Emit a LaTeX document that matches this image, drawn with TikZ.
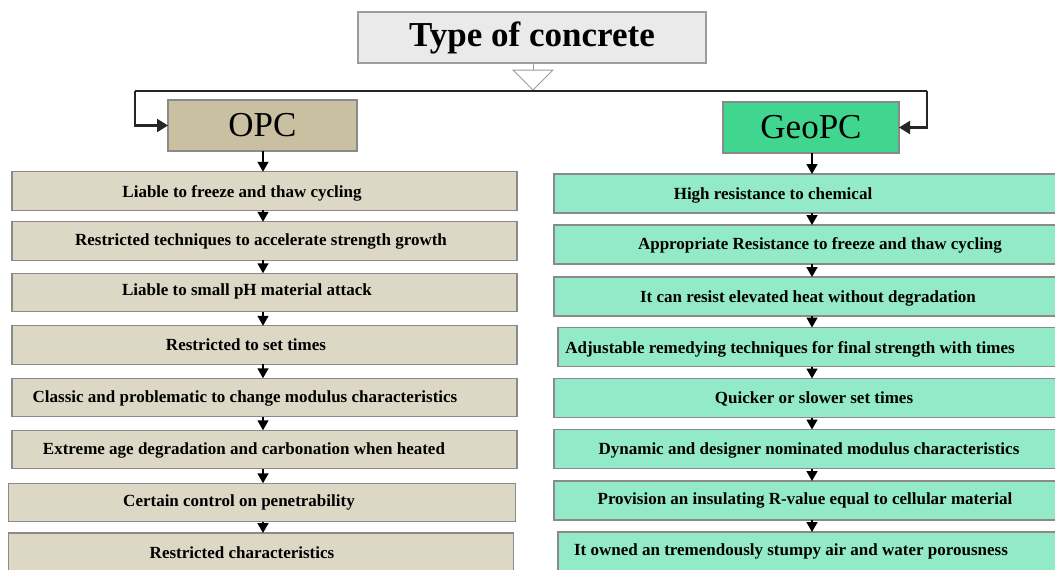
\documentclass[tikz,border=0pt]{standalone}
\usepackage{fontspec}
\setmainfont{Liberation Serif}
\usetikzlibrary{arrows.meta}
\definecolor{titlefill}{HTML}{EAEAEA}
\definecolor{titleborder}{HTML}{9C9C9C}
\definecolor{opcfill}{HTML}{C8C0A0}
\definecolor{opclist}{HTML}{DDD8C5}
\definecolor{geofill}{HTML}{40D690}
\definecolor{geolist}{HTML}{92EAC8}
\definecolor{boxborder}{HTML}{8A8A8A}
\tikzset{
  every node/.style={inner sep=0pt, outer sep=0pt},
  titlebox/.style={draw=titleborder, line width=1.2pt, fill=titlefill, minimum width=348pt, minimum height=51pt, font=\fontsize{35}{38}\selectfont\bfseries},
  headbox/.style={draw=boxborder, line width=1.2pt, minimum height=51pt, font=\fontsize{35}{38}\selectfont},
  leftbox/.style={draw=boxborder, line width=1.2pt, fill=opclist, minimum width=505pt, minimum height=38.5pt},
  rightbox/.style={draw=boxborder, line width=1.2pt, fill=geolist, minimum width=510pt, minimum height=39pt},
  itemtext/.style={font=\fontsize{17}{19}\selectfont\bfseries},
  flow/.style={line width=1.6pt, -{Triangle[width=11pt,length=10pt]}},
  bigflow/.style={line width=2.2pt, draw=black!85, -{Triangle[width=13pt,length=11pt]}},
}
\begin{document}
\begin{tikzpicture}[x=1pt,y=-1pt]
\useasboundingbox (0,0) rectangle (1055,570);
\fill[white] (0,0) rectangle (1055,570);
\begin{scope}
\clip (0,0) rectangle (1055,570);
% title
\node[titlebox] (title) at (532,37.5) {Type of concrete};
\coordinate (tri) at (533,70);
\draw[line width=1pt, draw=titleborder] (title.south -| tri) -- (tri);
\draw[line width=1pt, draw=titleborder, fill=white] (513,70) -- (553,70) -- (533,90) -- cycle;
% heads
\node[headbox, fill=opcfill, minimum width=189pt] (opc) at (262.5,125.5) {OPC};
\node[headbox, fill=geofill, minimum width=176pt] (geo) at (811,127.5) {GeoPC};
\coordinate (lcorner) at (135,91);
\coordinate (rcorner) at (927,91);
\draw[line width=2.2pt, draw=black!85] (lcorner) -- (rcorner);
\draw[bigflow] (lcorner) |- (opc.west);
\draw[bigflow] (rcorner) |- (geo.east);
% left list
\node[leftbox] (l1) at (264.5,191) {};
\node[leftbox] (l2) at (264.5,241) {};
\node[leftbox] (l3) at (264.5,292.5) {};
\node[leftbox] (l4) at (264.5,345) {};
\node[leftbox] (l5) at (264.5,397.5) {};
\node[leftbox] (l6) at (264.5,449.5) {};
\node[leftbox, minimum width=507pt] (l7) at (262,502.5) {};
\node[leftbox, minimum width=505pt, minimum height=42pt] (l8) at (261,554) {};
\node[itemtext] at (242,193) {Liable to freeze and thaw cycling};
\node[itemtext] at (261,241) {Restricted techniques to accelerate strength growth};
\node[itemtext] at (247,291) {Liable to small pH material attack};
\node[itemtext] at (246,345) {Restricted to set times};
\node[itemtext] at (245,398) {Classic and problematic to change modulus characteristics};
\node[itemtext] at (244,450) {Extreme age degradation and carbonation when heated};
\node[itemtext] at (239,502) {Certain control on penetrability};
\node[itemtext] at (242,553) {Restricted characteristics};
\coordinate (lx) at (263,0);
\draw[flow] (opc.south -| lx) -- (l1.north -| lx);
\foreach \a/\b in {l1/l2,l2/l3,l3/l4,l4/l5,l5/l6,l6/l7,l7/l8}
  \draw[flow] (\a.south -| lx) -- (\b.north -| lx);
% right list
\node[rightbox] (r1) at (809,193.5) {};
\node[rightbox] (r2) at (809,244.5) {};
\node[rightbox] (r3) at (809,296.5) {};
\node[rightbox, minimum width=504pt] (r4) at (810,347) {};
\node[rightbox] (r5) at (809,398) {};
\node[rightbox] (r6) at (809,449) {};
\node[rightbox] (r7) at (809,500.5) {};
\node[rightbox, minimum width=504pt, minimum height=42pt] (r8) at (810,553) {};
\node[itemtext] at (773,195) {High resistance to chemical};
\node[itemtext] at (820,245) {Appropriate Resistance to freeze and thaw cycling};
\node[itemtext] at (808,298) {It can resist elevated heat without degradation};
\node[itemtext] at (790,349) {Adjustable remedying techniques for final strength with times};
\node[itemtext] at (814,399) {Quicker or slower set times};
\node[itemtext] at (809,450) {Dynamic and designer nominated modulus characteristics};
\node[itemtext] at (805,500) {Provision an insulating R-value equal to cellular material};
\node[itemtext] at (791,551) {It owned an tremendously stumpy air and water porousness};
\coordinate (rx) at (812,0);
\draw[flow] (geo.south -| rx) -- (r1.north -| rx);
\foreach \a/\b in {r1/r2,r2/r3,r3/r4,r4/r5,r5/r6,r6/r7,r7/r8}
  \draw[flow] (\a.south -| rx) -- (\b.north -| rx);
\end{scope}
\end{tikzpicture}
\end{document}
